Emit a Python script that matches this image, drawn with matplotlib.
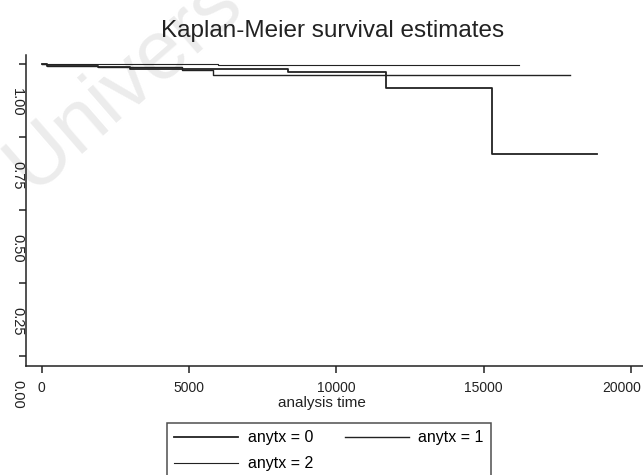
import matplotlib
matplotlib.use("Agg")
import matplotlib.pyplot as plt
from matplotlib.transforms import ScaledTranslation

plt.rcParams["font.family"] = ["Liberation Sans", "DejaVu Sans"]

# Kaplan-Meier step curves (time, survival)
t_any0 = [0, 180, 1900, 3000, 8350, 11690, 15290, 18850]
s_any0 = [1.0, 0.993, 0.990, 0.983, 0.972, 0.919, 0.692, 0.692]
t_any1 = [0, 180, 1900, 4770, 5820, 17930]
s_any1 = [1.0, 0.993, 0.990, 0.979, 0.962, 0.962]
t_any2 = [0, 6000, 16200]
s_any2 = [1.0, 0.998, 0.998]

labels = ["anytx = 0", "anytx = 1", "anytx = 2"]
xticks = [0, 5000, 10000, 15000, 20000]
yticks = [0.0, 0.25, 0.5, 0.75, 1.0]
ytick_labels = ["0.00", "0.25", "0.50", "0.75", "1.00"]

W, H = 643, 475
fig = plt.figure(figsize=(W / 100, H / 100), dpi=100)

# faint watermark of the scanned page (only this part is visible)
fig.text(32 / W, 1 - 192 / H, "Univers", rotation=41,
         rotation_mode="anchor", ha="left", va="baseline",
         fontsize=60, color="#ececec", zorder=-5)

ax = fig.add_axes([26 / W, 1 - 366 / H, 1 - 26 / W, (366 - 55) / H])
ax.patch.set_alpha(0)

ink = "#222222"
l0, = ax.step(t_any0, s_any0, where="post", color=ink, lw=1.3)
l1, = ax.step(t_any1, s_any1, where="post", color=ink, lw=1.0)
l2, = ax.step(t_any2, s_any2, where="post", color=ink, lw=0.8)

ax.set_xlim(-533, 20410)
ax.set_ylim(-0.034, 1.031)

for side in ("top", "right"):
    ax.spines[side].set_visible(False)
for side in ("left", "bottom"):
    ax.spines[side].set_color(ink)
    ax.spines[side].set_linewidth(1.1)

ax.set_xticks(xticks)
ax.set_xticklabels([str(v) for v in xticks])
ax.tick_params(axis="x", length=5, width=1.1, color=ink, pad=6,
               labelsize=10, labelcolor=ink)
# last label is pulled left in the scan so it stays on the page
last = ax.get_xticklabels()[-1]
last.set_transform(last.get_transform()
                   + ScaledTranslation(-9 / 100, 0, fig.dpi_scale_trans))

ax.set_yticks(yticks)
ax.set_yticklabels([])
ax.tick_params(axis="y", length=5, width=1.1, color=ink)

# y labels in the scan sit rotated and shifted below their ticks
shift = ScaledTranslation(-9 / 100, -38 / 100, fig.dpi_scale_trans)
for v, lab in zip(yticks, ytick_labels):
    ax.text(0, v, lab, transform=ax.get_yaxis_transform() + shift,
            rotation=270, ha="center", va="center", fontsize=10.5,
            color=ink)

fig.text(322 / W, 1 - 403 / H, "analysis time", ha="center", va="center",
         fontsize=11, color=ink)
fig.text(333 / W, 1 - 31 / H, "Kaplan-Meier survival estimates",
         ha="center", va="center", fontsize=17.5, color=ink)

leg = fig.legend([l0, l2, l1], [labels[0], labels[2], labels[1]],
                 ncol=2, loc="upper left",
                 bbox_to_anchor=(167 / W, 1 - 423 / H),
                 fontsize=11.5, frameon=True, fancybox=False,
                 edgecolor=ink, handlelength=4.0, handletextpad=0.6,
                 columnspacing=2.0, borderpad=0.45, labelspacing=0.7,
                 borderaxespad=0)
leg.get_frame().set_linewidth(1.1)

fig.savefig("out.png", dpi=100)
